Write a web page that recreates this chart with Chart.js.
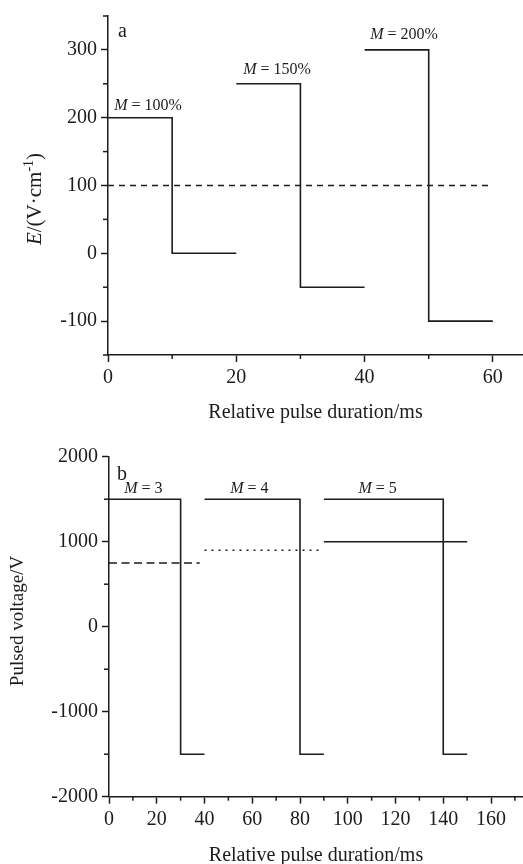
<!DOCTYPE html>
<html><head><meta charset="utf-8">
<script src="https://cdn.jsdelivr.net/npm/chart.js@4/dist/chart.umd.min.js"></script>
<style>
html,body{margin:0;padding:0;background:#fff;overflow:hidden;width:523px;height:864px}
canvas{position:absolute;left:0;display:block}
#c1{top:0}#c2{top:430px}
</style></head>
<body>
<canvas id="c1" width="523" height="430"></canvas>
<canvas id="c2" width="523" height="434"></canvas>
<script>
// ---- Panel a data ----
const aX1 = [0, 10, 10, 20],  aY1 = [200, 200, 0, 0];
const aX2 = [20, 30, 30, 40], aY2 = [250, 250, -50, -50];
const aX3 = [40, 50, 50, 60], aY3 = [300, 300, -100, -100];
const aRefX = [0, 60], aRefY = [100, 100];
const aLabelText = ['100%', '150%', '200%'];
const aLabelX = [6.24, 26.35, 46.15];
const aLabelY = [211.8, 264.7, 316.2];
const aXTicksMajor = [0, 20, 40, 60];
const aYTicksMajor = [-100, 0, 100, 200, 300];

// ---- Panel b data ----
const bX1 = [0, 30, 30, 40],    bY1 = [1500, 1500, -1500, -1500];
const bX2 = [40, 80, 80, 90],   bY2 = [1500, 1500, -1500, -1500];
const bX3 = [90, 140, 140, 150], bY3 = [1500, 1500, -1500, -1500];
const bRef1X = [0, 38],  bRef1Y = [750, 750];
const bRef2X = [40, 89], bRef2Y = [900, 900];
const bRef3X = [90, 150], bRef3Y = [1000, 1000];
const bLabelText = ['3', '4', '5'];
const bLabelX = [14.4, 58.8, 112.5];
const bLabelY = [1573, 1573, 1573];
const bXTicksMajor = [0, 20, 40, 60, 80, 100, 120, 140, 160];
const bYTicksMajor = [-2000, -1000, 0, 1000, 2000];

const ink = '#1c1c1c';
const serif = "'Liberation Serif','Times New Roman',serif";

function pts(xs, ys) { return xs.map((x, i) => ({x: x, y: ys[i]})); }
function line(xs, ys, dash) {
  return {data: pts(xs, ys), showLine: true, borderColor: ink, borderWidth: 1.6,
          pointRadius: 0, borderDash: dash || [], fill: false, tension: 0};
}
function isIn(list, v) { return list.some(m => Math.abs(m - v) < 1e-6); }

function makePlugin(p) {
  return {
    id: 'deco',
    afterDraw(chart) {
      const ctx = chart.ctx, xs = chart.scales.x, ys = chart.scales.y, ca = chart.chartArea;
      ctx.save();
      ctx.strokeStyle = ink; ctx.lineWidth = 1.5;
      // minor ticks
      xs.ticks.forEach(t => {
        if (!isIn(p.xMajor, t.value)) {
          const px = xs.getPixelForValue(t.value);
          ctx.beginPath(); ctx.moveTo(px, ca.bottom); ctx.lineTo(px, ca.bottom + 4); ctx.stroke();
        }
      });
      ys.ticks.forEach(t => {
        if (!isIn(p.yMajor, t.value)) {
          const py = ys.getPixelForValue(t.value);
          ctx.beginPath(); ctx.moveTo(ca.left, py); ctx.lineTo(ca.left - 5, py); ctx.stroke();
        }
      });
      ctx.fillStyle = ink;
      // M labels
      ctx.textBaseline = 'alphabetic';
      p.labelText.forEach((txt, i) => {
        const px = xs.getPixelForValue(p.labelX[i]);
        const py = ys.getPixelForValue(p.labelY[i]);
        ctx.font = 'italic 16px ' + serif;
        const w1 = ctx.measureText('M').width;
        ctx.font = '16px ' + serif;
        const rest = ' = ' + txt;
        const w2 = ctx.measureText(rest).width;
        let x0 = px - (w1 + w2) / 2;
        ctx.textAlign = 'left';
        ctx.font = 'italic 16px ' + serif;
        ctx.fillText('M', x0, py);
        ctx.font = '16px ' + serif;
        ctx.fillText(rest, x0 + w1, py);
      });
      // panel letter
      ctx.font = '20px ' + serif;
      ctx.textAlign = 'left';
      ctx.fillText(p.letter, ca.left + p.letterDx, ca.top + p.letterDy);
      // y title
      ctx.translate(p.yTitleX, p.yTitleY);
      ctx.rotate(-Math.PI / 2);
      ctx.textBaseline = 'middle';
      let total = 0;
      p.yTitle.forEach(part => { ctx.font = part[1] + ' ' + part[2] + 'px ' + serif; total += ctx.measureText(part[0]).width; });
      let x = -total / 2;
      p.yTitle.forEach(part => {
        ctx.font = part[1] + ' ' + part[2] + 'px ' + serif;
        ctx.fillText(part[0], x, part[3]);
        x += ctx.measureText(part[0]).width;
      });
      ctx.restore();
    }
  };
}

function axisCommon(majors, extra) {
  return Object.assign({
    type: 'linear',
    border: {display: true, color: ink, width: 1.5},
    grid: {display: true, drawOnChartArea: false, drawTicks: true, tickLength: 7, tickWidth: 1.5,
           tickColor: c => isIn(majors, c.tick.value) ? ink : 'rgba(0,0,0,0)'},
    ticks: {color: ink, font: {family: serif, size: 20}, autoSkip: false, maxRotation: 0,
            callback: v => isIn(majors, v) ? String(v) : ''}
  }, extra);
}

function build(id, o) {
  const xAxis = axisCommon(o.xMajor, {
    min: o.xMin, max: o.xMax,
    afterBuildTicks: s => {
      const t = [];
      for (let v = o.xMin; v <= o.xMax + 1e-9; v += 10) t.push({value: v});
      s.ticks = t;
    },
    afterFit: s => { s.height = o.xHeight; },
    title: {display: true, text: 'Relative pulse duration/ms', color: ink,
            font: {family: serif, size: 20, lineHeight: o.xTitleLH}, padding: {top: 0, bottom: o.xTitlePad}}
  });
  xAxis.ticks.stepSize = 10; xAxis.ticks.padding = 4;
  const yAxis = axisCommon(o.yMajor, {
    min: o.yMin, max: o.yMax,
    afterFit: s => { s.width = o.yWidth; }
  });
  yAxis.ticks.stepSize = o.yStep; yAxis.ticks.padding = 4;
  return new Chart(document.getElementById(id), {
    type: 'scatter',
    data: {datasets: o.datasets},
    options: {
      responsive: false, animation: false, devicePixelRatio: 1,
      layout: {padding: {top: o.padTop, left: 0, right: 0, bottom: 0}},
      plugins: {legend: {display: false}, tooltip: {enabled: false}},
      scales: {x: xAxis, y: yAxis}
    },
    plugins: [makePlugin(o)]
  });
}

build('c1', {
  datasets: [line(aX1, aY1), line(aX2, aY2), line(aX3, aY3), line(aRefX, aRefY, [6, 5])],
  xMin: 0, xMax: 64.7, yMin: -150, yMax: 350, yStep: 50,
  xMajor: aXTicksMajor, yMajor: aYTicksMajor,
  xHeight: 75, yWidth: 108, padTop: 15, xTitleLH: 1.2, xTitlePad: 5,
  labelText: aLabelText, labelX: aLabelX, labelY: aLabelY,
  letter: 'a', letterDx: 10, letterDy: 21,
  yTitleX: 35, yTitleY: 199,
  yTitle: [['E', 'italic', 21, 0], ['/(V·cm', 'normal', 21, 0], ['-1', 'normal', 14, -6], [')', 'normal', 21, 0]]
});

build('c2', {
  datasets: [line(bX1, bY1), line(bX2, bY2), line(bX3, bY3),
             line(bRef1X, bRef1Y, [8, 4.5]), line(bRef2X, bRef2Y, [2, 5]), line(bRef3X, bRef3Y)],
  xMin: 0, xMax: 173.4, yMin: -2000, yMax: 2000, yStep: 500,
  xMajor: bXTicksMajor, yMajor: bYTicksMajor,
  xHeight: 67.3, yWidth: 109, padTop: 26.7, xTitleLH: 0.6, xTitlePad: 2,
  labelText: bLabelText, labelX: bLabelX, labelY: bLabelY,
  letter: 'b', letterDx: 8, letterDy: 23.3,
  yTitleX: 18, yTitleY: 191,
  yTitle: [['Pulsed voltage/V', 'normal', 19, 0]]
});
</script>
</body></html>
